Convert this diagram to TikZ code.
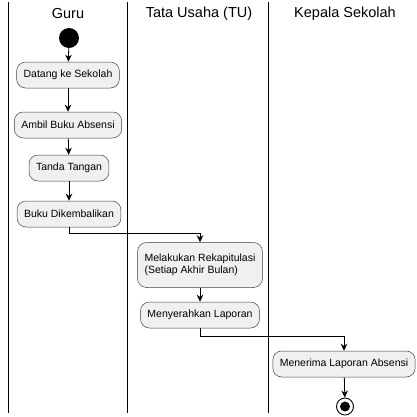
\documentclass[tikz,border=0pt]{standalone}
\usepackage{fontspec}
\setmainfont{Liberation Sans}
\usetikzlibrary{arrows.meta,positioning}

\begin{document}
\begin{tikzpicture}[x=1pt,y=-1pt,
    act/.style={draw=black!75, fill=black!6, rounded corners=9pt, minimum height=26pt,
      inner xsep=7pt, line width=0.5pt, font=\fontsize{10.5}{12.5}\selectfont},
    lane/.style={line width=1pt},
    head/.style={font=\fontsize{14.5}{16}\selectfont},
    flow/.style={-{Stealth[length=7pt,width=6.5pt,inset=2.2pt]}, line width=0.8pt}]
    \useasboundingbox (0,0) rectangle (417,416);
    % lanes
    \draw [lane] (8,2) -- (8,413);
    \draw [lane] (127,2) -- (127,413);
    \draw [lane] (268,2) -- (268,413);
    \node [head] (guru) at (68,14) {Guru};
    \node [head] (tu) at (199,14) {Tata Usaha (TU)};
    \node [head] (kepsek) at (345,14) {Kepala Sekolah};
    % activities
    \node [circle, fill=black, minimum size=20pt, inner sep=0pt] (start) at (69,38) {};
    \node [act] (datang) at (68,75) {Datang ke Sekolah};
    \node [act] (ambil) at (68,125) {Ambil Buku Absensi};
    \node [act] (ttd) at (69,168) {Tanda Tangan};
    \node [act] (kembali) at (69,214) {Buku Dikembalikan};
    \node [act, align=left, minimum height=45pt] (rekap) at (200,265)
      {Melakukan Rekapitulasi\\(Setiap Akhir Bulan)};
    \node [act] (serah) at (200,315) {Menyerahkan Laporan};
    \node [act] (terima) at (344,364) {Menerima Laporan Absensi};
    \node [circle, draw=black, line width=0.9pt, minimum size=17pt, inner sep=0pt] (stop) at (345,406.5) {};
    \fill [black] (stop) circle (5);
    % flows
    \draw [flow] (start) -- (datang);
    \draw [flow] (datang) -- (ambil);
    \draw [flow] (ambil) -- (ttd);
    \draw [flow] (ttd) -- (kembali);
    \draw [flow] (kembali.south) -- ++(0,6) -| (rekap.north);
    \draw [flow] (rekap) -- (serah);
    \draw [flow] (serah.south) -- ++(0,8) -| (terima.north);
    \draw [flow] (terima) -- (stop);
\end{tikzpicture}
\end{document}
